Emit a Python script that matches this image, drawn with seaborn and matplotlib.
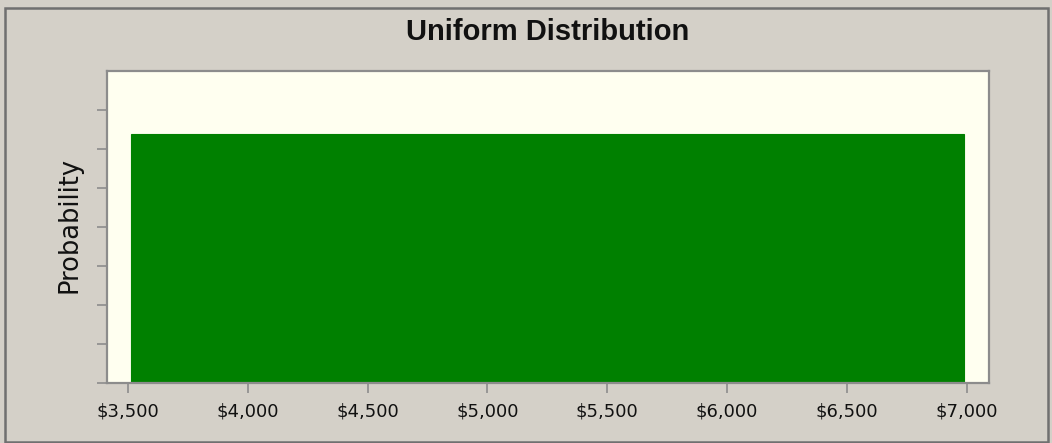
import matplotlib
matplotlib.use("Agg")
import matplotlib.pyplot as plt
import matplotlib.patches as mpatches
import matplotlib.ticker as mticker
import seaborn as sns

# Data
bin_edges = [3512, 6990]
bar_heights = [0.0002554]
x_ticks = [3500, 4000, 4500, 5000, 5500, 6000, 6500, 7000]
y_ticks = [0.0, 0.00004, 0.00008, 0.00012, 0.00016, 0.00020, 0.00024, 0.00028]
title = "Uniform Distribution"
ylabel = "Probability"

sns.set_style("white")
plt.rcParams["font.family"] = ["Liberation Sans", "DejaVu Sans"]

W, H = 1052, 443
fig = plt.figure(figsize=(W / 100, H / 100), dpi=100)
fig.patch.set_facecolor("#D4D0C8")

ax = fig.add_axes([107 / W, 1 - 383 / H, (989 - 107) / W, (383 - 71) / H])
ax.set_facecolor("#FFFFF0")

mid = [(bin_edges[0] + bin_edges[1]) / 2]
sns.histplot(x=mid, bins=bin_edges, weights=bar_heights, stat="count",
             color="#008000", edgecolor="#008000", alpha=1.0, linewidth=0.8, ax=ax)

ax.set_xlim(3412, 7093)
ax.set_ylim(0, 0.00032)
ax.set_xticks(x_ticks)
ax.xaxis.set_major_formatter(mticker.FuncFormatter(lambda v, p: f"${v:,.0f}"))
ax.set_yticks(y_ticks)
ax.set_yticklabels([])

for s in ax.spines.values():
    s.set_color("#8C8C8C")
    s.set_linewidth(1.6)

ax.tick_params(axis="both", direction="out", length=7, width=1.2, color="#8C8C8C",
               bottom=True, left=True)
ax.tick_params(axis="x", labelsize=13, pad=7, labelcolor="#111111")
for lab in ax.get_xticklabels():
    lab.set_family(["DejaVu Sans"])

ax.set_xlabel("")
ax.set_ylabel(ylabel, fontsize=18.5, color="#111111", family=["DejaVu Sans"])
ax.yaxis.set_label_coords(-0.028, 0.508)
ax.set_title(title, fontsize=21, fontweight="bold", pad=22, color="#111111")

border = mpatches.Rectangle((5 / W, 1 - 442 / H), (1048 - 5) / W, (442 - 8) / H,
                            transform=fig.transFigure, fill=False,
                            edgecolor="#707070", linewidth=1.8)
fig.patches.append(border)

fig.savefig("out.png", dpi=100, facecolor=fig.get_facecolor())
